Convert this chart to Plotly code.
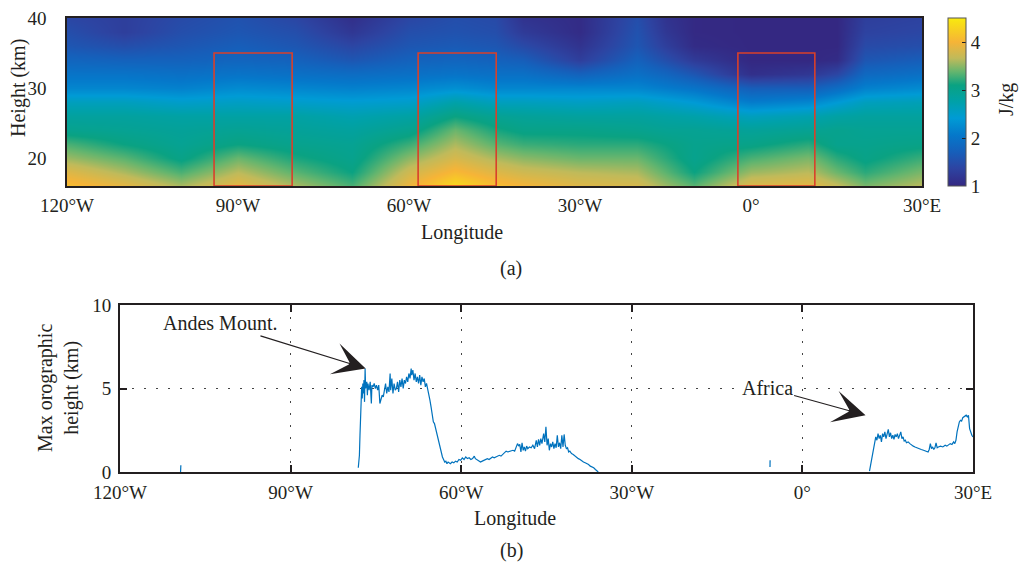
import numpy as np
import plotly.graph_objects as go

# ---------------- data: panel (a) ----------------
lon_nodes = [-120, -110, -100, -90, -80, -70, -60, -52, -45, -40, -30, -20, -15, -10, 0, 10, 15, 20, 30]
height_nodes = [16, 18, 20, 22, 24, 26, 28, 30, 32, 34, 36, 38, 40]
# energy (J/kg) per longitude node, listed from 16 km up to 40 km
energy_cols = [
    [4.10, 3.85, 3.55, 3.30, 3.00, 2.85, 2.60, 2.20, 2.00, 1.80, 1.60, 1.50, 1.40],  # -120
    [3.90, 3.60, 3.35, 3.10, 2.95, 2.85, 2.60, 2.20, 2.00, 1.75, 1.50, 1.30, 1.30],  # -110
    [3.60, 3.30, 3.05, 2.95, 2.90, 2.80, 2.50, 2.15, 1.95, 1.75, 1.60, 1.50, 1.45],  # -100
    [3.90, 3.65, 3.40, 3.10, 2.95, 2.80, 2.55, 2.25, 2.00, 1.80, 1.70, 1.60, 1.55],  # -90
    [3.60, 3.35, 3.15, 3.00, 2.90, 2.80, 2.50, 2.20, 1.95, 1.75, 1.60, 1.50, 1.40],  # -80
    [3.30, 3.10, 3.00, 2.95, 2.85, 2.70, 2.45, 2.15, 1.90, 1.60, 1.40, 1.20, 1.10],  # -70
    [3.95, 3.75, 3.50, 3.25, 3.00, 2.80, 2.50, 2.20, 1.95, 1.75, 1.60, 1.50, 1.40],  # -60
    [4.35, 4.05, 3.80, 3.60, 3.40, 3.10, 2.75, 2.30, 2.00, 1.80, 1.65, 1.55, 1.50],  # -52
    [4.10, 3.85, 3.60, 3.35, 3.15, 2.95, 2.60, 2.20, 1.95, 1.75, 1.60, 1.50, 1.45],  # -45
    [4.00, 3.75, 3.50, 3.25, 3.05, 2.90, 2.60, 2.20, 1.95, 1.70, 1.45, 1.25, 1.15],  # -40
    [3.85, 3.65, 3.40, 3.20, 3.05, 2.85, 2.55, 2.20, 1.75, 1.30, 1.15, 1.05, 1.05],  # -30
    [3.80, 3.60, 3.40, 3.20, 3.00, 2.85, 2.60, 2.20, 1.95, 1.75, 1.60, 1.55, 1.50],  # -20
    [3.55, 3.35, 3.20, 3.10, 2.95, 2.80, 2.50, 2.10, 1.80, 1.50, 1.30, 1.20, 1.15],  # -15
    [3.35, 3.10, 3.00, 3.00, 2.95, 2.75, 2.40, 2.00, 1.60, 1.25, 1.05, 1.02, 1.02],  # -10
    [3.85, 3.55, 3.30, 3.05, 2.90, 2.60, 2.10, 1.70, 1.10, 1.00, 1.00, 1.00, 1.00],  # 0
    [3.90, 3.65, 3.45, 3.20, 2.95, 2.70, 2.20, 1.70, 1.20, 1.00, 1.00, 1.00, 1.00],  # 10
    [3.70, 3.40, 3.20, 3.00, 3.00, 2.80, 2.40, 1.90, 1.40, 1.05, 1.00, 1.00, 1.00],  # 15
    [3.45, 3.20, 3.05, 3.00, 2.95, 2.85, 2.60, 2.15, 1.85, 1.60, 1.45, 1.35, 1.30],  # 20
    [3.65, 3.45, 3.25, 3.05, 2.95, 2.85, 2.65, 2.25, 1.95, 1.70, 1.50, 1.40, 1.35],  # 30
]
# highlighted regions (red boxes)
box_lon_start = [-94.2, -58.4, -2.3]
box_lon_end = [-80.5, -44.7, 11.2]
box_bottom = 16
box_top = 35

# ---------------- data: panel (b) ----------------
oro_lon = [
    -109.35, -109.3, None,
    -78.1, -78.0, -77.9, -77.8, -77.7, -77.6, -77.5, -77.4, -77.3, -77.2, -77.1, -77.0, -76.9, -76.8,
    -76.6, -76.5, -76.4, -76.2, -76.0, -75.8, -75.7, -75.5, -75.3, -75.1, -74.9, -74.7, -74.5, -74.3,
    -74.1, -73.9, -73.7, -73.5, -73.3, -73.1, -72.9, -72.7, -72.5, -72.4, -72.2, -72.0, -71.8, -71.6,
    -71.4, -71.2, -71.0, -70.8, -70.6, -70.4, -70.2, -70.0, -69.8, -69.6, -69.4, -69.2, -69.0, -68.8,
    -68.7, -68.5, -68.3, -68.1, -67.9, -67.7, -67.5, -67.3, -67.1, -66.9, -66.7, -66.5, -66.3, -66.1,
    -65.9, -65.7, -65.5, -65.3, -65.1, -64.9, -64.7, -64.5, -64.3, -64.1, -63.9, -63.7, -63.5, -63.3,
    -63.1, -62.9, -62.7, -62.5, -62.3, -62.1, -61.9, -61.6, -61.3, -61.0, -60.7, -60.4, -60.1, -59.8,
    -59.5, -59.2, -58.9, -58.6, -58.3, -58.0, -57.7, -57.5, -57.2, -56.9, -56.6, -56.3, -56.0, -55.7,
    -55.4, -55.1, -54.8, -54.5, -54.2, -53.9, -53.6, -53.3, -53.0, -52.7, -52.4, -52.1, -51.8, -51.5,
    -51.2, -50.9, -50.6, -50.3, -50.1, -49.9, -49.7, -49.5, -49.3, -49.1, -48.9, -48.7, -48.5, -48.3,
    -48.0, -47.7, -47.4, -47.1, -46.8, -46.6, -46.4, -46.2, -46.0, -45.8, -45.5, -45.3, -45.1, -44.9,
    -44.7, -44.5, -44.3, -44.1, -43.9, -43.7, -43.5, -43.3, -43.1, -42.9, -42.7, -42.5, -42.3, -42.1,
    -41.9, -41.7, -41.5, -41.3, -41.1, -40.9, -40.6, -40.3, -40.0, -39.7, -39.4, -39.1, -38.8, -38.5,
    -38.2, -37.9, -37.6, -37.3, -37.0, -36.7, -36.4, -36.1, -35.9, None,
    -5.7, -5.68, None,
    11.8, 12.1, 12.4, 12.7, 12.9, 13.1, 13.3, 13.5, 13.7, 13.9, 14.1, 14.3, 14.5, 14.7, 14.9, 15.1,
    15.3, 15.5, 15.7, 15.9, 16.1, 16.3, 16.5, 16.7, 16.9, 17.1, 17.3, 17.5, 17.7, 17.9, 18.1, 18.3,
    18.6, 18.9, 19.2, 19.5, 19.8, 20.1, 20.5, 20.9, 21.3, 21.7, 22.1, 22.3, 22.5, 22.7, 22.9, 23.1,
    23.3, 23.5, 23.7, 23.9, 24.3, 24.7, 25.1, 25.4, 25.7, 26.0, 26.3, 26.6, 26.8, 27.0, 27.2, 27.4,
    27.6, 27.8, 28.0, 28.2, 28.4, 28.6, 28.8, 29.0, 29.2, 29.4, 29.6, 29.8, 30.0,
]
oro_height = [
    0.0, 0.4, None,
    0.25, 0.6, 1.0, 2.2, 3.6, 4.3, 5.1, 4.4, 5.3, 4.7, 5.5, 4.2, 6.2, 5.0,
    5.4, 4.6, 5.3, 4.9, 5.4, 4.1, 5.2, 5.1, 5.3, 5.0, 5.2, 4.9, 5.2, 4.1,
    4.4, 4.6, 4.5, 4.9, 5.3, 4.7, 5.1, 4.8, 5.9, 4.9, 5.6, 4.7, 5.3, 4.9,
    5.0, 5.4, 4.8, 5.5, 5.1, 5.6, 5.0, 5.5, 5.3, 5.7, 5.4, 5.9, 5.6, 6.2,
    5.8, 6.1, 5.5, 5.9, 5.4, 5.7, 5.3, 5.8, 5.2, 5.7, 5.4, 5.6, 5.1, 5.3,
    5.0, 4.6, 4.3, 3.9, 3.4, 3.0, 2.9, 2.6, 2.4, 2.1, 1.9, 1.6, 1.3, 0.9,
    0.75, 0.6, 0.65, 0.5, 0.6, 0.55, 0.5, 0.6, 0.55, 0.65, 0.6, 0.75, 0.7, 0.85,
    0.75, 0.9, 0.8, 0.85, 0.75, 0.8, 0.95, 0.8, 0.75, 0.7, 0.6, 0.65, 0.7, 0.75,
    0.8, 0.75, 0.85, 0.9, 0.85, 0.9, 0.95, 1.0, 0.95, 1.05, 1.2, 1.25, 1.2, 1.25,
    1.3, 1.3, 1.25, 1.6, 1.7, 1.55, 1.65, 1.2, 1.75, 1.3, 1.5, 1.25, 1.55, 1.4,
    1.5, 1.45, 1.6, 1.4, 1.9, 1.5, 1.95, 1.6, 2.0, 1.7, 2.3, 1.8, 2.7, 1.6,
    2.0, 1.3, 1.7, 1.5, 1.8, 1.4, 1.7, 1.45, 2.2, 1.5, 1.75, 1.4, 2.2, 1.5,
    2.25, 1.6, 1.4, 1.45, 1.2, 1.25, 1.1, 1.05, 0.95, 0.85, 0.8, 0.75, 0.65, 0.6,
    0.55, 0.5, 0.45, 0.35, 0.3, 0.25, 0.15, 0.05, 0.0, None,
    0.3, 0.7, None,
    0.05, 0.6, 1.1, 1.8, 2.1, 1.9, 2.3, 2.0, 2.2, 1.8, 2.3, 2.1, 2.4, 2.0, 2.3, 2.55,
    2.1, 2.35, 2.0, 2.2, 1.95, 2.25, 2.1, 2.3, 2.0, 2.2, 2.4, 2.0, 2.1, 1.85, 1.9, 1.75,
    1.8, 1.7, 1.6, 1.55, 1.5, 1.45, 1.4, 1.35, 1.3, 1.25, 1.2, 1.35, 1.7, 1.4, 1.5, 1.35,
    1.45, 1.75, 1.45, 1.5, 1.55, 1.5, 1.6, 1.55, 1.6, 1.7, 1.65, 1.8, 1.7, 1.9, 2.4, 2.8,
    3.0, 3.1, 3.05, 3.25, 3.3, 3.35, 3.4, 3.3, 3.4, 2.6, 2.3, 2.2, 2.1,
]

lon_tickvals = [-120, -90, -60, -30, 0, 30]
lon_ticktext = ["120°W", "90°W", "60°W", "30°W", "0°", "30°E"]
height_ticks = [20, 30, 40]
oro_ticks = [0, 5, 10]
cbar_ticks = [1, 2, 3, 4]

# ---------------- styling ----------------
W, H = 1021, 568
FONT = "Liberation Serif"
FS = 20
TFS = 19
INK = "#231f20"

colorscale = [
    [0.000, "rgb(52,40,130)"],
    [0.106, "rgb(45,68,162)"],
    [0.203, "rgb(22,95,186)"],
    [0.303, "rgb(5,120,202)"],
    [0.403, "rgb(0,155,213)"],
    [0.503, "rgb(0,161,168)"],
    [0.600, "rgb(10,162,130)"],
    [0.680, "rgb(100,181,110)"],
    [0.760, "rgb(192,186,90)"],
    [0.857, "rgb(246,180,55)"],
    [0.977, "rgb(248,225,20)"],
    [1.000, "rgb(250,236,15)"],
]

def px_x(p):
    return p / W

def px_y(p):
    return 1 - p / H

fig = go.Figure()

z = np.array(energy_cols).T
fig.add_trace(go.Heatmap(
    x=lon_nodes, y=height_nodes, z=z,
    zsmooth="best", zmin=1, zmax=4.5,
    colorscale=colorscale,
    xaxis="x", yaxis="y",
    colorbar=dict(
        x=px_x(948), xanchor="left", xpad=0,
        y=px_y(102), yanchor="middle", ypad=0,
        len=168 / H, lenmode="fraction", thickness=18,
        tickvals=cbar_ticks, ticks="inside", ticklen=4, tickcolor=INK,
        tickfont=dict(family=FONT, size=TFS, color=INK),
        outlinewidth=1, outlinecolor="#555",
    ),
    hoverinfo="skip",
))

fig.add_trace(go.Scatter(
    x=oro_lon, y=oro_height, mode="lines",
    line=dict(color="#0072BD", width=1.2),
    connectgaps=False, xaxis="x2", yaxis="y2", showlegend=False,
))

shapes = []
for x0, x1 in zip(box_lon_start, box_lon_end):
    shapes.append(dict(type="rect", xref="x", yref="y", x0=x0, x1=x1, y0=box_bottom, y1=box_top,
                       line=dict(color="#d9402a", width=1.6)))

tickfont = dict(family=FONT, size=TFS, color=INK)
GRID_DASH = "2px,10px"

fig.update_layout(
    width=W, height=H, margin=dict(l=0, r=0, t=0, b=0, autoexpand=False),
    paper_bgcolor="white", plot_bgcolor="white",
    showlegend=False,
    xaxis=dict(domain=[px_x(67), px_x(922)], range=[-120, 30], anchor="y",
               tickvals=lon_tickvals, ticktext=lon_ticktext, tickfont=tickfont,
               ticks="", showgrid=False, zeroline=False, automargin=False,
               showline=True, linecolor=INK, linewidth=1.5, mirror=True, ticklabelstandoff=1),
    yaxis=dict(domain=[px_y(186), px_y(18)], range=[16, 40], anchor="x",
               tickvals=height_ticks, tickfont=tickfont,
               ticks="", showgrid=False, zeroline=False, automargin=False,
               showline=True, linecolor=INK, linewidth=1.5, mirror=True, ticklabelstandoff=15),
    xaxis2=dict(domain=[px_x(120), px_x(973)], range=[-120, 30], anchor="y2",
                tickvals=lon_tickvals, ticktext=lon_ticktext, tickfont=tickfont,
                ticks="inside", ticklen=7, tickwidth=2, tickcolor=INK,
                showgrid=True, gridcolor="#444", griddash=GRID_DASH, gridwidth=1,
                zeroline=False, showline=True, linecolor=INK, linewidth=2, mirror="ticks",
                ticklabelstandoff=2, automargin=False),
    yaxis2=dict(domain=[px_y(472), px_y(305)], range=[0, 10], anchor="x2",
                tickvals=oro_ticks, tickfont=tickfont,
                ticks="inside", ticklen=7, tickwidth=2, tickcolor=INK,
                showgrid=True, gridcolor="#444", griddash=GRID_DASH, gridwidth=1,
                zeroline=False, showline=True, linecolor=INK, linewidth=2, mirror="ticks",
                ticklabelstandoff=3, automargin=False),
    shapes=shapes,
)

txt = dict(family=FONT, size=FS, color=INK)
annotations = [
    dict(text="Height (km)", x=px_x(18), y=px_y(88), xref="paper", yref="paper",
         textangle=-90, showarrow=False, font=txt, xanchor="center", yanchor="middle"),
    dict(text="J/kg", x=px_x(1006), y=px_y(100), xref="paper", yref="paper",
         textangle=-90, showarrow=False, font=txt, xanchor="center", yanchor="middle"),
    dict(text="Longitude", x=px_x(462), y=px_y(232), xref="paper", yref="paper",
         showarrow=False, font=txt, xanchor="center", yanchor="middle"),
    dict(text="(a)", x=px_x(511), y=px_y(268), xref="paper", yref="paper",
         showarrow=False, font=txt, xanchor="center", yanchor="middle"),
    dict(text="Max orographic<br>height (km)", x=px_x(58), y=px_y(388), xref="paper", yref="paper",
         textangle=-90, showarrow=False, font=txt, xanchor="center", yanchor="middle"),
    dict(text="Longitude", x=px_x(515), y=px_y(518), xref="paper", yref="paper",
         showarrow=False, font=txt, xanchor="center", yanchor="middle"),
    dict(text="(b)", x=px_x(511), y=px_y(550), xref="paper", yref="paper",
         showarrow=False, font=txt, xanchor="center", yanchor="middle"),
    dict(text="Andes Mount.", x=-76.8, y=6.2, xref="x2", yref="y2",
         ax=-102.4, ay=8.9, axref="x2", ayref="y2",
         showarrow=True, arrowhead=3, arrowsize=4.5, arrowwidth=1.2, arrowcolor=INK,
         font=txt, bgcolor="rgba(255,255,255,0)"),
    dict(text="Africa", x=11.1, y=3.4, xref="x2", yref="y2",
         ax=-6.2, ay=5.03, axref="x2", ayref="y2",
         showarrow=True, arrowhead=3, arrowsize=4.5, arrowwidth=1.2, arrowcolor=INK,
         font=txt, bgcolor="white"),
]
fig.update_layout(annotations=annotations)

fig.write_html("out.html")
